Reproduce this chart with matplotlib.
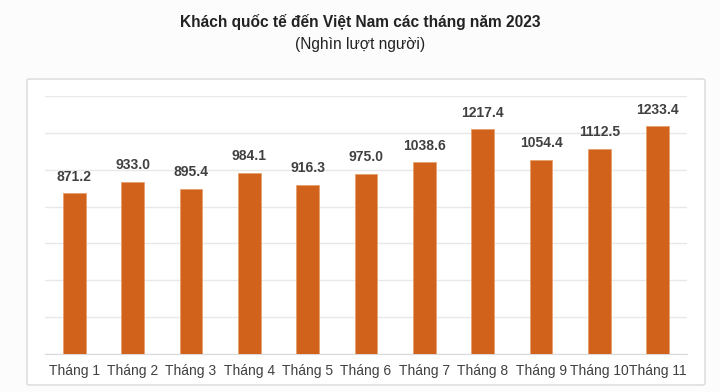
import matplotlib
matplotlib.use("Agg")
import matplotlib.pyplot as plt
from matplotlib.patches import FancyBboxPatch

months = ["Tháng 1", "Tháng 2", "Tháng 3", "Tháng 4", "Tháng 5", "Tháng 6",
          "Tháng 7", "Tháng 8", "Tháng 9", "Tháng 10", "Tháng 11"]
values = [871.2, 933.0, 895.4, 984.1, 916.3, 975.0, 1038.6, 1217.4, 1054.4, 1112.5, 1233.4]
labels = ["871.2", "933.0", "895.4", "984.1", "916.3", "975.0", "1038.6", "1217.4",
          "1054.4", "1112.5", "1233.4"]
title = "Khách quốc tế đến Việt Nam các tháng năm 2023"
subtitle = "(Nghìn lượt người)"

plt.rcParams['font.family'] = ['Liberation Sans', 'DejaVu Sans']

W, H = 720, 392
fig = plt.figure(figsize=(W/100, H/100), dpi=100)
fig.patch.set_facecolor("#FDFCFD")

# outer box
box = FancyBboxPatch((27/W, 1-385/H), (705-27)/W, (385-79)/H,
                     boxstyle="round,pad=0,rounding_size=0.004",
                     transform=fig.transFigure, facecolor="white",
                     edgecolor="#D9D9D9", linewidth=1.0, zorder=0)
fig.patches.append(box)

ax = fig.add_axes([45/W, 1-354.3/H, (687-45)/W, (354.3-95.7)/H])
ax.set_zorder(2)
ax.set_facecolor("none")
x = list(range(len(months)))
bars = ax.bar(x, values, width=0.39, color="#D0621C", edgecolor="#E8A070",
              linewidth=0.6, zorder=3)
ax.set_xlim(-0.5, len(months)-0.5)
ax.set_ylim(0, 1400)
ax.set_yticks(range(0, 1401, 200))
ax.yaxis.grid(True, color="#E8E8E8", linewidth=1.0, zorder=0)
ax.set_yticklabels([])
ax.tick_params(axis='y', length=0)
ax.set_xticks(x)
ax.set_xticklabels(months, fontsize=10, color="#404040")
ax.tick_params(axis='x', length=0, pad=7)
for s in ["top", "right", "left"]:
    ax.spines[s].set_visible(False)
ax.spines["bottom"].set_color("#D9D9D9")

for xi, v, lab in zip(x, values, labels):
    ax.annotate(lab, (xi, v), xytext=(0, 7), textcoords="offset points",
                ha="center", va="bottom", fontsize=10, fontweight="bold",
                color="#404040")

fig.text(0.5, 1-22/H, title, ha="center", va="center", fontsize=11.2,
         fontweight="bold", color="#222222")
fig.text(0.5, 1-45/H, subtitle, ha="center", va="center", fontsize=11.2,
         color="#222222")

fig.savefig("out.png", dpi=100, facecolor=fig.get_facecolor())
